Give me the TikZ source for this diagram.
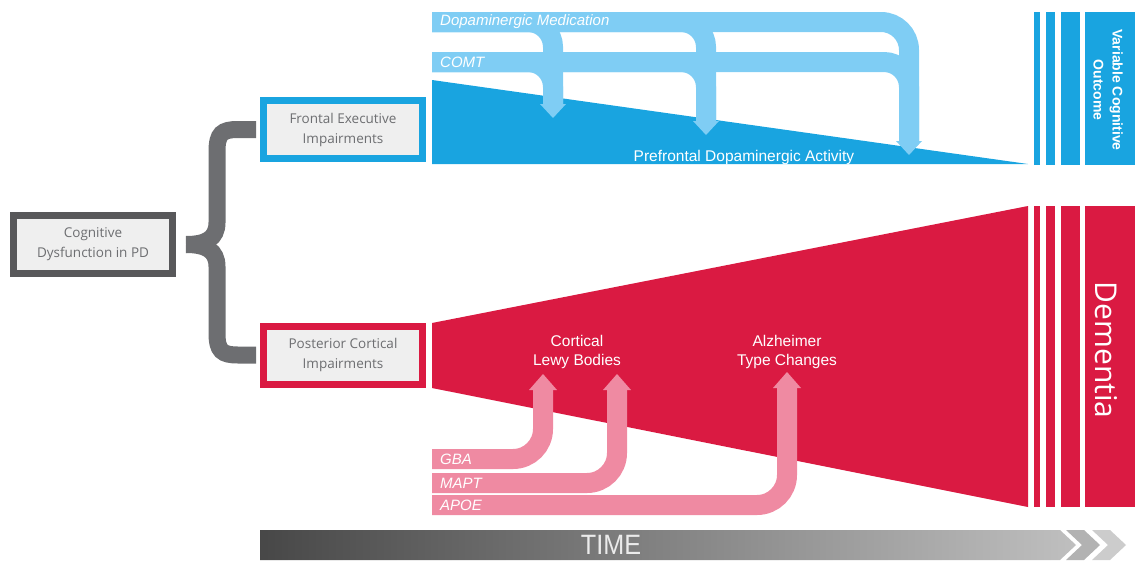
\documentclass[tikz,border=0pt]{standalone}
\usepackage{fontspec}
\setmainfont{Liberation Sans}
\newfontfamily\osans{Open Sans}
\usetikzlibrary{calc}
\definecolor{mblue}{HTML}{19A4E0}
\definecolor{lblue}{HTML}{7FCDF4}
\definecolor{mred}{HTML}{DA1A42}
\definecolor{mpink}{HTML}{EF8AA2}
\definecolor{boxfill}{HTML}{EFEFEF}
\definecolor{boxtext}{HTML}{6D6E71}
\definecolor{darkframe}{HTML}{58585A}
\definecolor{bracegray}{HTML}{6D6E71}
\tikzset{
  box/.style={minimum width=159pt, minimum height=58pt, inner sep=0pt, line width=7pt,
    fill=boxfill, align=center, text=boxtext, font=\osans\fontsize{13.5}{20}\selectfont},
  bracestyle/.style={draw=bracegray, line width=17pt, line cap=butt},
  lbline/.style={draw=lblue, line width=20pt, line cap=butt},
  pkline/.style={draw=mpink, line width=20pt, line cap=butt},
  bandtxt/.style={text=white, font=\itshape\fontsize{15}{17}\selectfont, inner sep=0pt, anchor=west},
  whitetxt/.style={text=white, font=\fontsize{15.5}{19}\selectfont, align=center, inner sep=0pt},
  dhead/.pic={\fill[lblue] (-13,-1) -- (13,-1) -- (0,13) -- cycle;},
  uhead/.pic={\fill[mpink] (-14,1) -- (14,1) -- (0,-15) -- cycle;}
}
\begin{document}
\begin{tikzpicture}[x=1pt,y=-1pt]
\useasboundingbox (0,0) rectangle (1135,560);
% boxes
\node[box, draw=darkframe] (cog) at (93,244.5) {Cognitive\\Dysfunction in PD};
\node[box, draw=mblue] (fe) at (343,129.5) {Frontal Executive\\Impairments};
\node[box, draw=mred] (pc) at (343,355) {Posterior Cortical\\Impairments};
% brace
\coordinate (brTop) at ([xshift=-4pt]fe.west);
\coordinate (brBot) at ([xshift=-4pt]pc.west);
\coordinate (brTip) at ([xshift=10pt]cog.east);
\draw[bracestyle] (brTop) -- ++(-18,0) .. controls +(-16,0) and +(0,-18) .. ++(-21,22)
  -- ($(brTip)+(31,-22)$) .. controls +(0,16) and +(20,0) .. (brTip);
\draw[bracestyle] (brBot) -- ++(-18,0) .. controls +(-16,0) and +(0,18) .. ++(-21,-22)
  -- ($(brTip)+(31,22)$) .. controls +(0,-16) and +(20,0) .. (brTip);
% blue wedge and stripes
\fill[mblue] (432,80) -- (432,164) -- (1028,164) -- cycle;
\fill[mblue] (1034,12) rectangle (1040,165);
\fill[mblue] (1046,12) rectangle (1055,165);
\fill[mblue] (1061,12) rectangle (1080,165);
\fill[mblue] (1085,12) rectangle (1135,165);
% red trapezoid and stripes
\fill[mred] (432,323) -- (1028,206) -- (1028,507) -- (432,388) -- cycle;
\fill[mred] (1034,206) rectangle (1040,507);
\fill[mred] (1046,206) rectangle (1055,507);
\fill[mred] (1061,206) rectangle (1080,507);
\fill[mred] (1085,206) rectangle (1135,507);
% light blue arrows
\coordinate (dmS) at (432,22);
\coordinate (coS) at (432,62);
\coordinate (b1) at (553,105);
\coordinate (b2) at (706,122);
\coordinate (b3) at (909,142);
\draw[lbline, rounded corners=28pt] (dmS) -| (b3);
\draw[lbline, rounded corners=25pt] (coS) -| (b3);
\draw[lbline, rounded corners=25pt] (dmS) -| (b1);
\draw[lbline, rounded corners=25pt] (coS) -| (b1);
\draw[lbline, rounded corners=25pt] (dmS) -| (b2);
\draw[lbline, rounded corners=25pt] (coS) -| (b2);
\pic at (b1) {dhead};
\pic at (b2) {dhead};
\pic at (b3) {dhead};
\node[bandtxt] (tdm) at (440,22) {Dopaminergic Medication};
\node[bandtxt] (tco) at (440,62) {COMT};
\node[whitetxt] (pda) at (744,157) {Prefrontal Dopaminergic Activity};
% pink arrows
\coordinate (gS) at (432,459);
\coordinate (mS) at (432,483);
\coordinate (aS) at (432,505);
\coordinate (p1) at (543,389);
\coordinate (p2) at (617,389);
\coordinate (p3) at (787,387);
\draw[pkline, rounded corners=30pt] (aS) -| (p3);
\draw[pkline, rounded corners=30pt] (mS) -| (p2);
\draw[pkline, rounded corners=30pt] (gS) -| (p1);
\pic at (p1) {uhead};
\pic at (p2) {uhead};
\pic at (p3) {uhead};
\node[bandtxt] (tg) at (440,459) {GBA};
\node[bandtxt] (tm) at (440,483) {MAPT};
\node[bandtxt] (ta) at (440,505) {APOE};
\node[whitetxt] (clb) at (577,352) {Cortical\\Lewy Bodies};
\node[whitetxt] (atc) at (787,352) {Alzheimer\\Type Changes};
% outcomes
\node[rotate=-90, text=white, align=center, inner sep=0pt, font=\bfseries\fontsize{14}{19}\selectfont] (vco) at (1108,90) {Variable Cognitive\\Outcome};
\node[rotate=-90, text=white, inner sep=0pt, font=\osans\fontsize{30}{34}\selectfont] (dem) at (1106,350) {Dementia};
% time bar
\shade[left color=black!72, right color=black!25] (260,530) -- (1060,530) -- (1076,545) -- (1060,560) -- (260,560) -- cycle;
\fill[black!30] (1066,530) -- (1084,530) -- (1100,545) -- (1084,560) -- (1066,560) -- (1082,545) -- cycle;
\fill[black!20] (1092,530) -- (1110,530) -- (1126,545) -- (1110,560) -- (1092,560) -- (1108,545) -- cycle;
\node[text=black!8, inner sep=0pt, font=\fontsize{28}{32}\selectfont] (time) at (611,545) {\scalebox{0.9}[1]{TIME}};
\end{tikzpicture}
\end{document}
